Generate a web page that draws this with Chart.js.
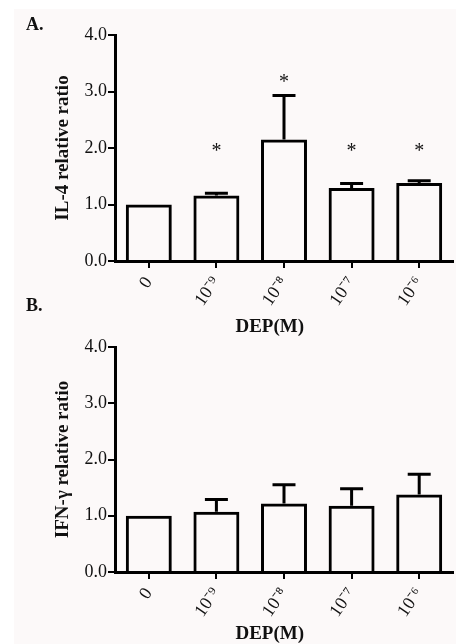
<!DOCTYPE html>
<html>
<head>
<meta charset="utf-8">
<script src="https://cdn.jsdelivr.net/npm/chart.js@4.4.0/dist/chart.umd.min.js"></script>
<style>
  html, body { margin: 0; padding: 0; background: #fff; }
  #page { position: relative; width: 456px; height: 644px; overflow: hidden; }
  #paper { position: absolute; left: 14px; top: 9px; right: 0; bottom: 0; background: #fcf9f9; }
  canvas { position: absolute; left: 0; }
  .panel { position: absolute; left: 26px; font: bold 18px "Liberation Serif", serif; line-height: 18px; color: #111; }
</style>
</head>
<body>
<div id="page">
  <div id="paper"></div>
  <canvas id="chartA" width="456" height="340" style="top:0"></canvas>
  <canvas id="chartB" width="456" height="346" style="top:298px"></canvas>
  <div class="panel" style="top:15px">A.</div>
  <div class="panel" style="top:296px">B.</div>
</div>
<script>
// values (mean, upper error)
const doses = ['0', '10⁻⁹', '10⁻⁸', '10⁻⁷', '10⁻⁶'];
const il4Mean = [1.00, 1.16, 2.15, 1.29, 1.38];
const il4Err = [0, 0.04, 0.78, 0.08, 0.04];
const il4Sig = [false, true, true, true, true];
const ifnMean = [1.00, 1.07, 1.22, 1.18, 1.38];
const ifnErr = [0, 0.22, 0.33, 0.30, 0.36];
const ifnSig = [false, false, false, false, false];
const yTicks = [0, 1, 2, 3, 4];

const serif = '"Liberation Serif", "Times New Roman", serif';

// draws the upward SEM whiskers and the significance stars
const errorBars = {
    id: 'errorBars',
    afterDatasetsDraw(chart, args, opts) {
        const meta = chart.getDatasetMeta(0);
        const y = chart.scales.y;
        const ctx = chart.ctx;
        ctx.save();
        ctx.strokeStyle = '#000';
        ctx.lineWidth = 3;
        meta.data.forEach(function (bar, i) {
            const err = opts.err[i];
            const top = y.getPixelForValue(opts.mean[i] + err);
            if (err > 0) {
                ctx.beginPath();
                ctx.moveTo(bar.x, bar.y);
                ctx.lineTo(bar.x, top - 1.5);
                ctx.moveTo(bar.x - bar.width / 4, top);
                ctx.lineTo(bar.x + bar.width / 4, top);
                ctx.stroke();
            }
            if (opts.sig[i]) {
                const level = Math.max(2.0, opts.mean[i] + err + 0.3);
                ctx.fillStyle = '#111';
                ctx.font = '20px ' + serif;
                ctx.textAlign = 'center';
                ctx.textBaseline = 'alphabetic';
                ctx.fillText('*', bar.x, y.getPixelForValue(level) + 9);
            }
        });
        ctx.restore();
    }
};

function makeChart(id, mean, err, sig, yTitle, topPad, xHeight, titlePad) {
    return new Chart(document.getElementById(id), {
        type: 'bar',
        data: {
            labels: doses,
            datasets: [{
                data: mean,
                backgroundColor: 'rgba(0,0,0,0)',
                borderColor: '#000',
                borderWidth: 3,
                barPercentage: 0.68,
                categoryPercentage: 1
            }]
        },
        plugins: [errorBars],
        options: {
            responsive: false,
            animation: false,
            layout: { padding: { top: topPad, right: 3, left: 0, bottom: 0 } },
            plugins: {
                legend: { display: false },
                tooltip: { enabled: false },
                errorBars: { mean: mean, err: err, sig: sig }
            },
            scales: {
                x: {
                    grid: { drawOnChartArea: false, tickLength: 7, lineWidth: 2, color: '#000', offset: false },
                    border: { color: '#000', width: 3 },
                    ticks: {
                        color: '#111',
                        font: { family: serif, size: 18 },
                        minRotation: 55,
                        maxRotation: 55,
                        padding: 5,
                        autoSkip: false
                    },
                    title: {
                        display: true,
                        text: 'DEP(M)      ',
                        color: '#111',
                        font: { family: serif, size: 19, weight: 'bold', lineHeight: 1 },
                        padding: { top: 0, bottom: titlePad }
                    },
                    afterFit: function (s) { s.height = xHeight; }
                },
                y: {
                    min: 0,
                    max: 4,
                    afterBuildTicks: function (s) { s.ticks = yTicks.map(v => ({ value: v })); },
                    grid: { drawOnChartArea: false, tickLength: 7, lineWidth: 2, color: '#000' },
                    border: { color: '#000', width: 3 },
                    ticks: {
                        color: '#111',
                        font: { family: serif, size: 18 },
                        padding: 1,
                        callback: v => v.toFixed(1)
                    },
                    title: {
                        display: true,
                        text: yTitle,
                        color: '#111',
                        font: { family: serif, size: 19, weight: 'bold', lineHeight: 1 },
                        padding: { top: 54, bottom: 0 }
                    },
                    afterFit: function (s) { s.width = 115; }
                }
            }
        }
    });
}

makeChart('chartA', il4Mean, il4Err, il4Sig, 'IL-4 relative ratio', 35, 79, 3.5);
makeChart('chartB', ifnMean, ifnErr, ifnSig, 'IFN-γ relative ratio', 49, 72, 0);
</script>
</body>
</html>
